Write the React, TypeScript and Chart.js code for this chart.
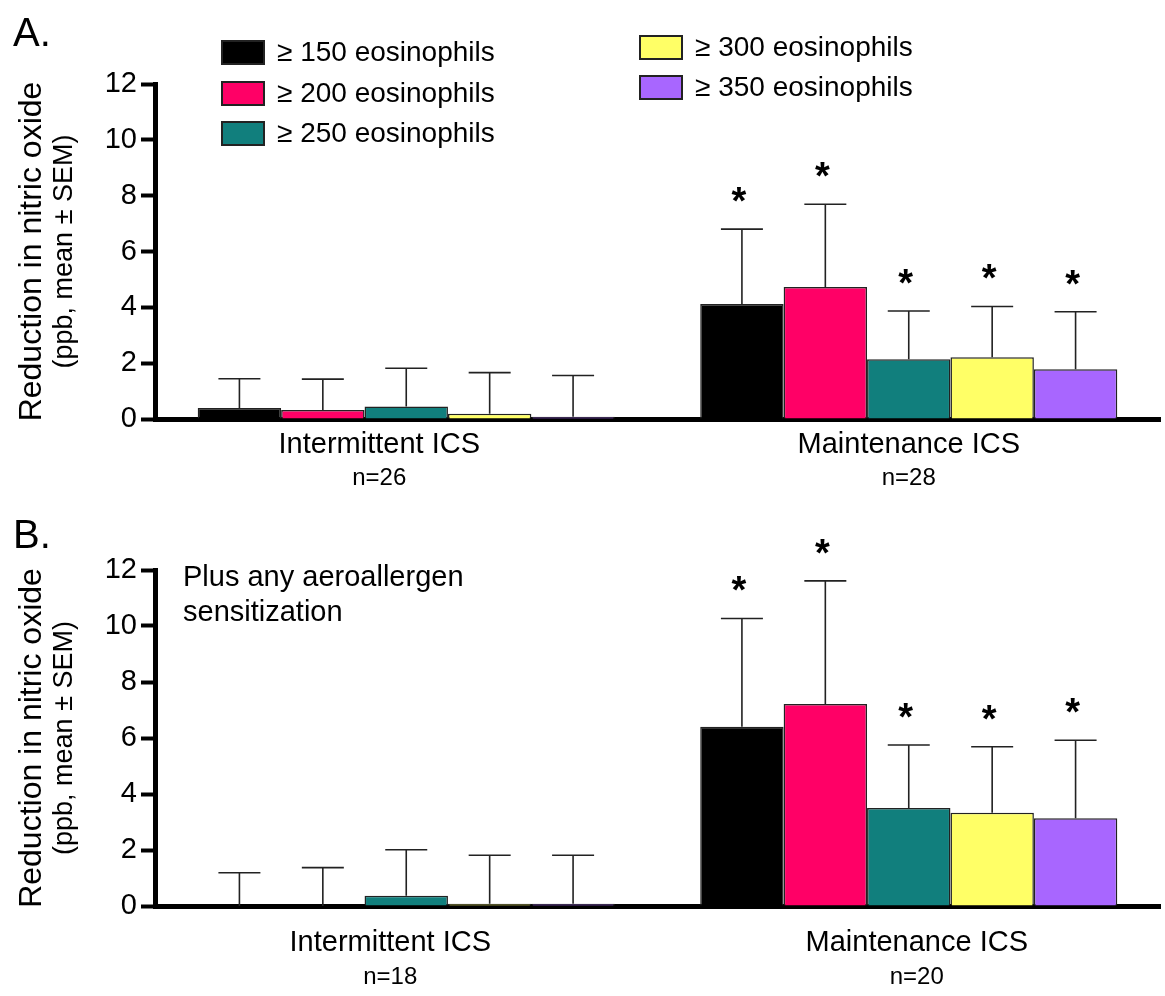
import React, { useEffect, useRef } from 'react';
import { Chart, registerables } from 'chart.js';

Chart.register(...registerables);

// ---------- data ----------
const categories = ['Intermittent ICS', 'Maintenance ICS'];
const nLabelsA = ['n=26', 'n=28'];
const nLabelsB = ['n=18', 'n=20'];
const seriesLabels = ['≥ 150 eosinophils', '≥ 200 eosinophils', '≥ 250 eosinophils', '≥ 300 eosinophils', '≥ 350 eosinophils'];
const seriesColors = ['#000000', '#FF0066', '#117F7D', '#FFFF66', '#A866FF'];
const yTicks = [0, 2, 4, 6, 8, 10, 12];

// Panel A: means per series [Intermittent, Maintenance]
const meansA = [
  [0.39, 4.12],
  [0.32, 4.73],
  [0.45, 2.14],
  [0.19, 2.21],
  [0.08, 1.78],
];
const semA = [
  [1.05, 2.68],
  [1.11, 2.96],
  [1.37, 1.73],
  [1.47, 1.82],
  [1.48, 2.06],
];
const sigA = [
  [false, true],
  [false, true],
  [false, true],
  [false, true],
  [false, true],
];

// Panel B
const meansB = [
  [0.0, 6.40],
  [0.0, 7.21],
  [0.37, 3.50],
  [0.08, 3.33],
  [0.08, 3.13],
];
const semB = [
  [1.19, 3.87],
  [1.37, 4.40],
  [1.64, 2.25],
  [1.73, 2.36],
  [1.73, 2.79],
];
const sigB = [
  [false, true],
  [false, true],
  [false, true],
  [false, true],
  [false, true],
];

const FONT = '"Liberation Sans", Arial, sans-serif';

type Panel = {
  letter: string;
  letterY: number;
  means: number[][];
  sems: number[][];
  sig: boolean[][];
  nLabels: string[];
  top: number;
  xAxisHeight: number;
  catLabelY: number;
  nLabelY: number;
  labelShift: number[];
  legend: boolean;
  note: string[];
};

const panelA: Panel = {
  letter: 'A.', letterY: 46, means: meansA, sems: semA, sig: sigA, nLabels: nLabelsA,
  top: 84, xAxisHeight: 79, catLabelY: 453, nLabelY: 485, labelShift: [-27, 0], legend: true, note: [],
};
const panelB: Panel = {
  letter: 'B.', letterY: 50, means: meansB, sems: semB, sig: sigB, nLabels: nLabelsB,
  top: 72, xAxisHeight: 90, catLabelY: 453, nLabelY: 486, labelShift: [-16, 8], legend: false,
  note: ['Plus any aeroallergen', 'sensitization'],
};

function makeExtras(p: Panel) {
  return {
    id: 'extras' + p.letter,
    afterDatasetsDraw(chart: any) {
      const ctx = chart.ctx as CanvasRenderingContext2D;
      const ys = chart.scales.y;
      chart.data.datasets.forEach((_ds: any, di: number) => {
        const meta = chart.getDatasetMeta(di);
        meta.data.forEach((bar: any, i: number) => {
          const v = p.means[di][i];
          const e = p.sems[di][i];
          const yBar = ys.getPixelForValue(v);
          const yTop = ys.getPixelForValue(v + e);
          ctx.save();
          ctx.strokeStyle = '#222';
          ctx.lineWidth = 1.6;
          ctx.beginPath();
          ctx.moveTo(bar.x, yBar);
          ctx.lineTo(bar.x, yTop);
          ctx.moveTo(bar.x - 21, yTop);
          ctx.lineTo(bar.x + 21, yTop);
          ctx.stroke();
          if (p.sig[di][i]) {
            ctx.fillStyle = '#000';
            ctx.font = `bold 38px ${FONT}`;
            ctx.textAlign = 'center';
            ctx.textBaseline = 'alphabetic';
            ctx.fillText('*', bar.x - 3, yTop - 15);
          }
          ctx.restore();
        });
      });
    },
    afterDraw(chart: any) {
      const ctx = chart.ctx as CanvasRenderingContext2D;
      const xs = chart.scales.x;
      const area = chart.chartArea;
      ctx.save();
      ctx.fillStyle = '#000';
      // panel letter
      ctx.font = `40px ${FONT}`;
      ctx.textAlign = 'left';
      ctx.textBaseline = 'alphabetic';
      ctx.fillText(p.letter, 13, p.letterY);
      // note
      ctx.font = `29px ${FONT}`;
      p.note.forEach((t, i) => ctx.fillText(t, 183, 88 + i * 35));
      // category labels and n labels
      ctx.textAlign = 'center';
      categories.forEach((c, i) => {
        const x = xs.getPixelForTick(i) + p.labelShift[i];
        ctx.font = `29px ${FONT}`;
        ctx.fillText(c, x, p.catLabelY);
        ctx.font = `24px ${FONT}`;
        ctx.fillText(p.nLabels[i], x, p.nLabelY);
      });
      // y title
      const cy = (area.top + area.bottom) / 2;
      ctx.save();
      ctx.translate(0, cy);
      ctx.rotate(-Math.PI / 2);
      ctx.textAlign = 'center';
      ctx.font = `32px ${FONT}`;
      ctx.fillText('Reduction in nitric oxide', 0, 41);
      ctx.font = `27px ${FONT}`;
      ctx.fillText('(ppb, mean ± SEM)', 0, 72);
      ctx.restore();
      // legend
      if (p.legend) {
        const pos = [
          [222, 41], [222, 82], [222, 122], [640, 36], [640, 76],
        ];
        seriesLabels.forEach((lab, i) => {
          const [bx, by] = pos[i];
          ctx.fillStyle = seriesColors[i];
          ctx.fillRect(bx, by, 42, 23);
          ctx.strokeStyle = '#222';
          ctx.lineWidth = 2;
          ctx.strokeRect(bx, by, 42, 23);
          ctx.fillStyle = '#000';
          ctx.font = `28px ${FONT}`;
          ctx.textAlign = 'left';
          ctx.textBaseline = 'middle';
          ctx.fillText(lab, bx + 55, by + 12);
        });
      }
      ctx.restore();
    },
  };
}

function PanelChart({ p }: { p: Panel }) {
  const ref = useRef<HTMLCanvasElement>(null);
  useEffect(() => {
    if (!ref.current) return;
    const chart = new Chart(ref.current, {
      type: 'bar',
      data: {
        labels: categories,
        datasets: seriesLabels.map((lab, i) => ({
          label: lab,
          data: p.means[i],
          backgroundColor: seriesColors[i],
          borderColor: '#222',
          borderWidth: 1.5,
          categoryPercentage: 0.83,
          barPercentage: 1.0,
        })),
      },
      options: {
        animation: false,
        responsive: false,
        maintainAspectRatio: false,
        layout: { padding: { top: p.top, right: 5, left: 0, bottom: 0 } },
        plugins: { legend: { display: false }, tooltip: { enabled: false }, title: { display: false } },
        scales: {
          x: {
            type: 'category',
            grid: { display: false, drawTicks: false },
            border: { display: true, width: 5, color: '#000' },
            ticks: { display: false },
            afterFit: (s: any) => { s.height = p.xAxisHeight; },
          },
          y: {
            min: 0,
            max: 12,
            afterBuildTicks: (s: any) => { s.ticks = yTicks.map((v) => ({ value: v })); },
            grid: { display: true, drawOnChartArea: false, drawTicks: true, tickLength: 14, tickWidth: 4, tickColor: '#000' },
            border: { display: true, width: 5, color: '#000' },
            ticks: { color: '#000', font: { size: 29, family: FONT }, padding: 4 },
            afterFit: (s: any) => { s.width = 155; },
          },
        },
      },
      plugins: [makeExtras(p)],
    });
    return () => chart.destroy();
  }, [p]);
  return <canvas ref={ref} width={1165} height={498} style={{ display: 'block', width: 1165, height: 498 }} />;
}

export default function App() {
  return (
    <div style={{ position: 'absolute', left: 0, top: 0, width: 1165, height: 996, background: '#fff' }}>
      <PanelChart p={panelA} />
      <PanelChart p={panelB} />
    </div>
  );
}
